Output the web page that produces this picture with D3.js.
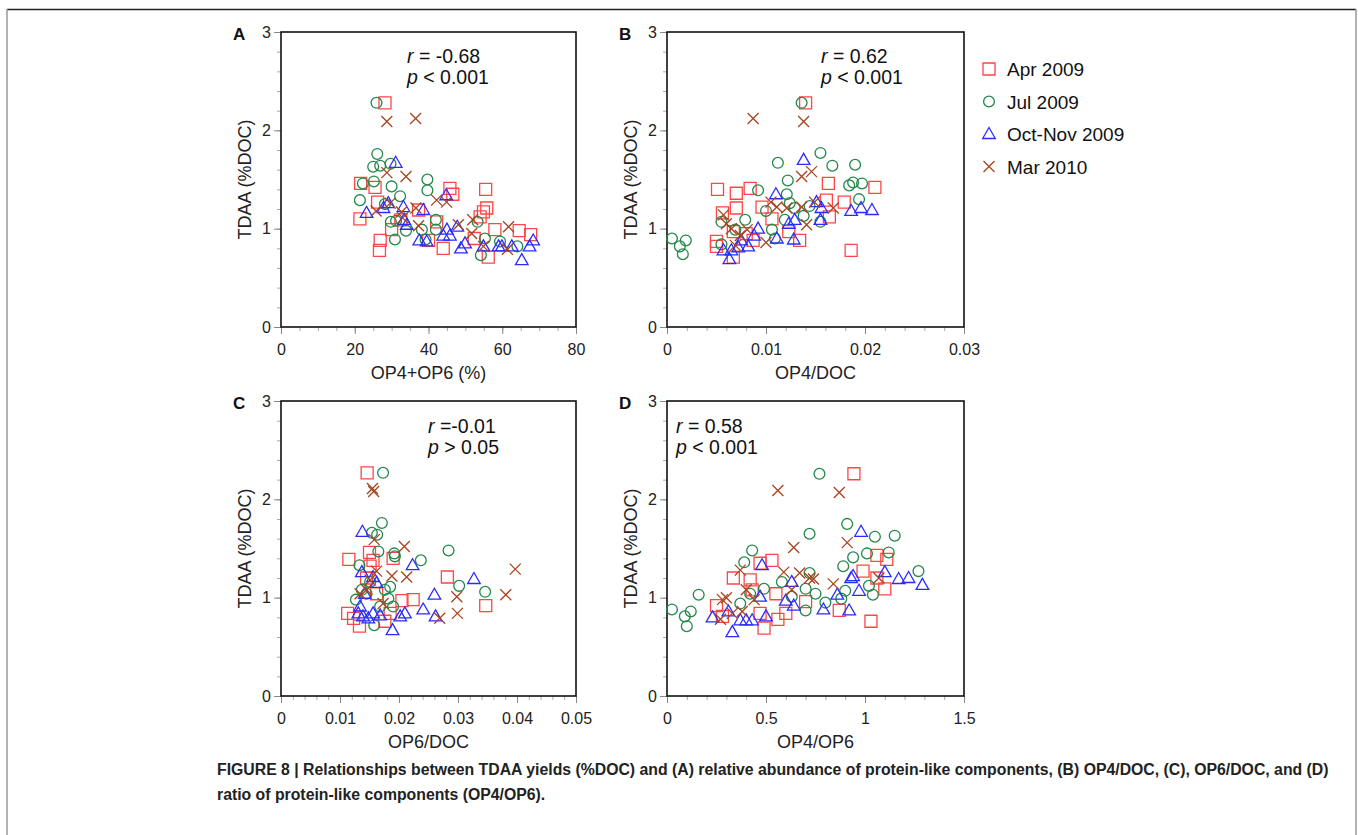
<!DOCTYPE html>
<html>
<head>
<meta charset="utf-8">
<script src="https://cdn.jsdelivr.net/npm/d3@7.9.0/dist/d3.min.js"></script>
<style>
  body { margin: 0; background: #fff; }
  svg { display: block; font-family: "Liberation Sans", Arial, sans-serif; }
</style>
</head>
<body>
<svg id="chart" width="1358" height="835"></svg>
<script>
// series names and legend labels
const seriesNames = ['Apr 2009', 'Jul 2009', 'Oct-Nov 2009', 'Mar 2010'];

// Panel A: OP4+OP6 (%) vs TDAA (%DOC)
const panelA_apr = [[28.2,2.28],[21.6,1.46],[25.5,1.42],[21.4,1.10],[26.9,0.88],[26.7,0.78],[45.8,1.41],[46.6,1.35],[55.5,1.40],[55.8,1.21],[54.9,1.17],[58.0,0.99],[64.6,0.98],[67.7,0.94],[40.0,0.88],[44.0,0.80],[56.2,0.71],[52.4,0.90],[54.0,1.12],[42.2,1.07],[32.5,1.09],[26.2,1.27],[30.0,0.99],[37.3,1.19]];
const panelA_jul = [[25.9,2.28],[26.1,1.76],[25.0,1.63],[26.9,1.64],[29.7,1.66],[22.2,1.46],[25.2,1.48],[30.0,1.43],[21.4,1.29],[32.3,1.33],[39.7,1.50],[39.7,1.39],[28.2,1.25],[29.8,1.07],[31.2,1.08],[33.9,0.98],[30.9,0.89],[38.2,0.99],[39.2,0.89],[42.0,1.09],[42.0,0.99],[53.3,1.07],[55.3,0.90],[54.2,0.73],[59.4,0.87],[64.1,0.82]];
const panelA_oct = [[31.1,1.67],[23.2,1.16],[27.8,1.21],[29.1,1.26],[33.2,1.22],[33.4,1.09],[34.1,1.04],[38.6,1.19],[44.8,1.34],[37.5,0.88],[39.5,0.87],[44.0,0.93],[45.8,0.93],[45.0,0.99],[47.8,1.02],[48.8,0.80],[49.9,0.85],[54.9,0.82],[59.0,0.82],[59.9,0.82],[62.6,0.82],[65.3,0.68],[67.4,0.82],[68.4,0.88]];
const panelA_mar = [[28.7,2.09],[36.5,2.12],[28.7,1.57],[33.9,1.53],[25.8,1.18],[29.6,1.26],[33.0,1.11],[36.6,1.21],[37.3,1.03],[42.2,1.29],[44.9,1.27],[48.1,1.04],[52.0,1.09],[51.7,0.95],[54.9,0.82],[61.7,1.02],[61.4,0.79],[32.7,1.17]];

// Panel B: OP4/DOC vs TDAA (%DOC)
const panelB_apr = [[0.0140,2.28],[0.0051,1.40],[0.0070,1.36],[0.0084,1.41],[0.0070,1.21],[0.0096,1.22],[0.0163,1.46],[0.0161,1.29],[0.0179,1.27],[0.0210,1.42],[0.0164,1.12],[0.0123,0.97],[0.0134,0.88],[0.0186,0.78],[0.0050,0.87],[0.0050,0.82],[0.0067,0.97],[0.0067,0.71],[0.0087,0.88],[0.0080,0.95],[0.0106,1.10],[0.0056,1.16]];
const panelB_jul = [[0.0136,2.28],[0.0005,0.90],[0.0013,0.82],[0.0019,0.88],[0.0016,0.74],[0.0155,1.77],[0.0112,1.67],[0.0167,1.64],[0.0190,1.65],[0.0122,1.49],[0.0092,1.39],[0.0184,1.44],[0.0188,1.47],[0.0197,1.46],[0.0194,1.30],[0.0121,1.35],[0.0124,1.26],[0.0100,1.18],[0.0144,1.23],[0.0129,1.21],[0.0119,1.09],[0.0138,1.13],[0.0079,1.09],[0.0055,1.07],[0.0069,0.99],[0.0106,0.99],[0.0109,0.90],[0.0055,0.84],[0.0155,1.07]];
const panelB_oct = [[0.0138,1.70],[0.0110,1.35],[0.0092,1.00],[0.0088,0.93],[0.0111,0.90],[0.0123,1.05],[0.0128,0.89],[0.0151,1.27],[0.0156,1.21],[0.0155,1.09],[0.0186,1.18],[0.0196,1.21],[0.0207,1.19],[0.0063,0.69],[0.0057,0.78],[0.0065,0.78],[0.0072,0.81],[0.0075,0.88],[0.0082,0.82],[0.0129,1.09]];
const panelB_mar = [[0.0087,2.12],[0.0138,2.09],[0.0136,1.53],[0.0146,1.58],[0.0105,1.27],[0.0111,1.22],[0.0121,1.21],[0.0136,1.22],[0.0149,1.27],[0.0168,1.21],[0.0057,1.14],[0.0060,1.05],[0.0065,1.00],[0.0074,0.93],[0.0081,0.99],[0.0100,0.86],[0.0141,1.04],[0.0069,0.83]];

// Panel C: OP6/DOC vs TDAA (%DOC)
const panelC_apr = [[0.0146,2.27],[0.0115,1.39],[0.0150,1.46],[0.0190,1.40],[0.0282,1.21],[0.0347,0.92],[0.0205,0.97],[0.0224,0.98],[0.0113,0.84],[0.0123,0.79],[0.0133,0.71],[0.0176,0.76],[0.0151,1.32],[0.0156,1.38],[0.0162,1.04],[0.0145,1.20],[0.0185,0.84]];
const panelC_jul = [[0.0173,2.27],[0.0171,1.76],[0.0154,1.66],[0.0163,1.64],[0.0165,1.47],[0.0192,1.45],[0.0193,1.42],[0.0133,1.33],[0.0237,1.38],[0.0284,1.48],[0.0302,1.12],[0.0346,1.06],[0.0127,0.98],[0.0137,1.08],[0.0151,1.16],[0.0176,1.08],[0.0185,1.11],[0.0190,0.91],[0.0158,0.72],[0.0168,0.91],[0.0145,1.04],[0.0182,0.99]];
const panelC_oct = [[0.0138,1.67],[0.0223,1.33],[0.0137,1.26],[0.0156,1.21],[0.0162,1.15],[0.0260,1.03],[0.0241,0.88],[0.0262,0.81],[0.0327,1.19],[0.0189,0.67],[0.0210,0.84],[0.0202,0.81],[0.0134,0.91],[0.0139,0.81],[0.0148,0.79],[0.0131,0.84],[0.0156,0.84],[0.0168,0.82],[0.0142,1.04]];
const panelC_mar = [[0.0155,2.11],[0.0157,2.08],[0.0158,1.59],[0.0209,1.52],[0.0213,1.21],[0.0188,1.22],[0.0151,1.18],[0.0162,1.27],[0.0397,1.29],[0.0381,1.03],[0.0298,1.01],[0.0299,0.84],[0.0269,0.79],[0.0145,1.08],[0.0173,0.94],[0.0134,1.04]];

// Panel D: OP4/OP6 vs TDAA (%DOC)
const panelD_apr = [[0.944,2.26],[0.335,1.20],[0.47,1.35],[0.53,1.38],[0.42,1.18],[0.43,1.08],[0.25,0.92],[0.49,0.69],[0.56,0.78],[0.60,0.84],[0.55,1.04],[0.70,0.96],[0.87,0.87],[1.03,0.76],[0.99,1.27],[1.06,1.43],[1.11,1.39],[1.10,1.09],[1.06,1.20],[0.28,0.81],[0.47,0.84]];
const panelD_jul = [[0.77,2.26],[0.025,0.88],[0.09,0.81],[0.10,0.71],[0.12,0.86],[0.16,1.03],[0.39,1.36],[0.43,1.48],[0.72,1.65],[0.91,1.75],[1.05,1.62],[1.15,1.63],[1.01,1.45],[0.94,1.41],[1.12,1.46],[0.89,1.32],[1.27,1.27],[1.02,1.12],[1.04,1.03],[0.88,0.99],[0.90,1.07],[0.75,1.04],[0.80,0.95],[0.70,0.87],[0.70,1.09],[0.72,1.25],[0.63,1.01],[0.58,1.16],[0.49,1.09],[0.42,1.04],[0.37,0.94]];
const panelD_oct = [[0.98,1.67],[0.23,0.80],[0.33,0.65],[0.31,0.86],[0.37,0.77],[0.40,0.77],[0.43,0.77],[0.48,1.33],[0.47,1.01],[0.50,0.81],[0.60,0.97],[0.64,0.92],[0.63,1.16],[0.79,0.88],[0.86,1.03],[0.92,0.87],[0.93,1.20],[0.94,1.22],[0.97,1.07],[1.10,1.26],[1.17,1.19],[1.22,1.20],[1.29,1.13]];
const panelD_mar = [[0.56,2.09],[0.87,2.07],[0.64,1.51],[0.91,1.56],[0.37,1.28],[0.59,1.26],[0.67,1.25],[0.72,1.20],[0.74,1.19],[0.84,1.14],[1.07,1.20],[0.28,0.98],[0.30,1.00],[0.27,0.78],[0.33,0.84],[0.40,1.08],[0.44,0.98],[0.38,0.86],[0.63,1.08]];

// axis ticks
const yTicks = [0, 1, 2, 3];
const xTicksA = [0, 20, 40, 60, 80];
const xTicksB = [0, 0.01, 0.02, 0.03];
const xTicksC = [0, 0.01, 0.02, 0.03, 0.04, 0.05];
const xTicksD = [0, 0.5, 1, 1.5];

const colors = ['#ff4646', '#23884a', '#2b2bff', '#a8431f'];
const shapes = ['square', 'circle', 'triangle', 'cross'];

const svg = d3.select('#chart');

// page frame
svg.append('line').attr('x1', 7).attr('x2', 1356).attr('y1', 9.5).attr('y2', 9.5)
  .attr('stroke', '#222').attr('stroke-width', 1.5);
svg.append('line').attr('x1', 7).attr('x2', 7).attr('y1', 9).attr('y2', 835)
  .attr('stroke', '#999').attr('stroke-width', 1.5);
svg.append('line').attr('x1', 1356).attr('x2', 1356).attr('y1', 9).attr('y2', 835)
  .attr('stroke', '#999').attr('stroke-width', 1.5);

function markerPath(shape) {
  if (shape === 'square') return 'M-6,-6H6V6H-6Z';
  if (shape === 'circle') return d3.symbol(d3.symbolCircle, Math.PI * 5.4 * 5.4)();
  if (shape === 'triangle') return 'M0,-6.5L6.3,4.5H-6.3Z';
  return 'M-5.5,-5.5L5.5,5.5M5.5,-5.5L-5.5,5.5';
}

const panels = [
  { letter: 'A', x0: 281, x1: 576, y0: 32, y1: 327, xDomain: [0, 80], xTicks: xTicksA, minor: 5,
    xLabel: 'OP4+OP6 (%)', series: [panelA_apr, panelA_jul, panelA_oct, panelA_mar],
    stats: ['r', ' = -0.68', 'p', ' < 0.001'], sx: 407, sy: 63 },
  { letter: 'B', x0: 667, x1: 964, y0: 32, y1: 327, xDomain: [0, 0.03], xTicks: xTicksB, minor: 0.002,
    xLabel: 'OP4/DOC', series: [panelB_apr, panelB_jul, panelB_oct, panelB_mar],
    stats: ['r', ' = 0.62', 'p', ' < 0.001'], sx: 821, sy: 63 },
  { letter: 'C', x0: 281, x1: 576, y0: 401, y1: 696, xDomain: [0, 0.05], xTicks: xTicksC, minor: 0.002,
    xLabel: 'OP6/DOC', series: [panelC_apr, panelC_jul, panelC_oct, panelC_mar],
    stats: ['r', ' =-0.01', 'p', ' > 0.05'], sx: 428, sy: 433 },
  { letter: 'D', x0: 667, x1: 964, y0: 401, y1: 696, xDomain: [0, 1.5], xTicks: xTicksD, minor: 0.1,
    xLabel: 'OP4/OP6', series: [panelD_apr, panelD_jul, panelD_oct, panelD_mar],
    stats: ['r', ' = 0.58', 'p', ' < 0.001'], sx: 676, sy: 433 }
];

panels.forEach(p => {
  const x = d3.scaleLinear().domain(p.xDomain).range([p.x0, p.x1]);
  const y = d3.scaleLinear().domain([0, 3]).range([p.y1, p.y0]);
  const g = svg.append('g');

  // minor ticks
  const xMinor = d3.range(p.xDomain[0], p.xDomain[1] + p.minor / 2, p.minor);
  const yMinor = d3.range(0, 3.0001, 0.2);
  g.append('g').attr('transform', `translate(0,${p.y1})`)
    .call(d3.axisBottom(x).tickValues(xMinor).tickSize(4).tickFormat(''))
    .call(a => a.select('.domain').remove())
    .call(a => a.selectAll('line').attr('stroke', '#aaa'));
  g.append('g').attr('transform', `translate(${p.x0},0)`)
    .call(d3.axisLeft(y).tickValues(yMinor).tickSize(4).tickFormat(''))
    .call(a => a.select('.domain').remove())
    .call(a => a.selectAll('line').attr('stroke', '#aaa'));

  // major ticks and labels
  const xa = g.append('g').attr('transform', `translate(0,${p.y1})`)
    .call(d3.axisBottom(x).tickValues(p.xTicks).tickSize(7).tickPadding(10).tickFormat(d => String(d)));
  xa.select('.domain').remove();
  xa.selectAll('line').attr('stroke', '#888');
  xa.selectAll('text').attr('font-size', 16).attr('fill', '#222')
    .attr('font-family', '"Liberation Sans", Arial, sans-serif');

  const ya = g.append('g').attr('transform', `translate(${p.x0},0)`)
    .call(d3.axisLeft(y).tickValues(yTicks).tickSize(7).tickPadding(3).tickFormat(d3.format('d')));
  ya.select('.domain').remove();
  ya.selectAll('line').attr('stroke', '#888');
  ya.selectAll('text').attr('font-size', 16).attr('fill', '#222')
    .attr('font-family', '"Liberation Sans", Arial, sans-serif');

  // plot frame
  g.append('rect').attr('x', p.x0).attr('y', p.y0)
    .attr('width', p.x1 - p.x0).attr('height', p.y1 - p.y0)
    .attr('fill', 'none').attr('stroke', '#111').attr('stroke-width', 1.6);

  // points
  p.series.forEach((data, i) => {
    g.append('g').selectAll('path')
      .data(data)
      .join('path')
      .attr('d', markerPath(shapes[i]))
      .attr('transform', d => `translate(${x(d[0])},${y(d[1])})`)
      .attr('fill', 'none')
      .attr('stroke', colors[i])
      .attr('stroke-width', 1.3);
  });

  // panel letter
  g.append('text').attr('x', p.x0 - 48).attr('y', p.y0 + 8)
    .attr('font-size', 17).attr('font-weight', 'bold').attr('fill', '#111').text(p.letter);

  // axis titles
  g.append('text')
    .attr('transform', `translate(${p.x0 - 30},${(p.y0 + p.y1) / 2}) rotate(-90)`)
    .attr('text-anchor', 'middle').attr('font-size', 18).attr('fill', '#222')
    .text('TDAA (%DOC)');
  g.append('text').attr('x', (p.x0 + p.x1) / 2).attr('y', p.y1 + 52)
    .attr('text-anchor', 'middle').attr('font-size', 18).attr('fill', '#222')
    .text(p.xLabel);

  // correlation stats
  const t1 = g.append('text').attr('x', p.sx).attr('y', p.sy).attr('font-size', 19.5).attr('fill', '#111');
  t1.append('tspan').attr('font-style', 'italic').text(p.stats[0]);
  t1.append('tspan').text(p.stats[1]);
  const t2 = g.append('text').attr('x', p.sx).attr('y', p.sy + 21).attr('font-size', 19.5).attr('fill', '#111');
  t2.append('tspan').attr('font-style', 'italic').text(p.stats[2]);
  t2.append('tspan').text(p.stats[3]);
});

// legend
const legend = svg.append('g').attr('transform', 'translate(989,69)');
seriesNames.forEach((name, i) => {
  const row = legend.append('g').attr('transform', `translate(0,${i * 32.5})`);
  row.append('path').attr('d', markerPath(shapes[i]))
    .attr('fill', 'none').attr('stroke', colors[i]).attr('stroke-width', 1.3);
  row.append('text').attr('x', 18).attr('y', 7).attr('font-size', 19).attr('fill', '#111').text(name);
});

// caption
const caption = svg.append('text').attr('font-size', 15.8).attr('font-weight', 'bold').attr('fill', '#222');
caption.append('tspan').attr('x', 217).attr('y', 775)
  .text('FIGURE 8 | Relationships between TDAA yields (%DOC) and (A) relative abundance of protein-like components, (B) OP4/DOC, (C), OP6/DOC, and (D)');
caption.append('tspan').attr('x', 217).attr('y', 800)
  .text('ratio of protein-like components (OP4/OP6).');
</script>
</body>
</html>
